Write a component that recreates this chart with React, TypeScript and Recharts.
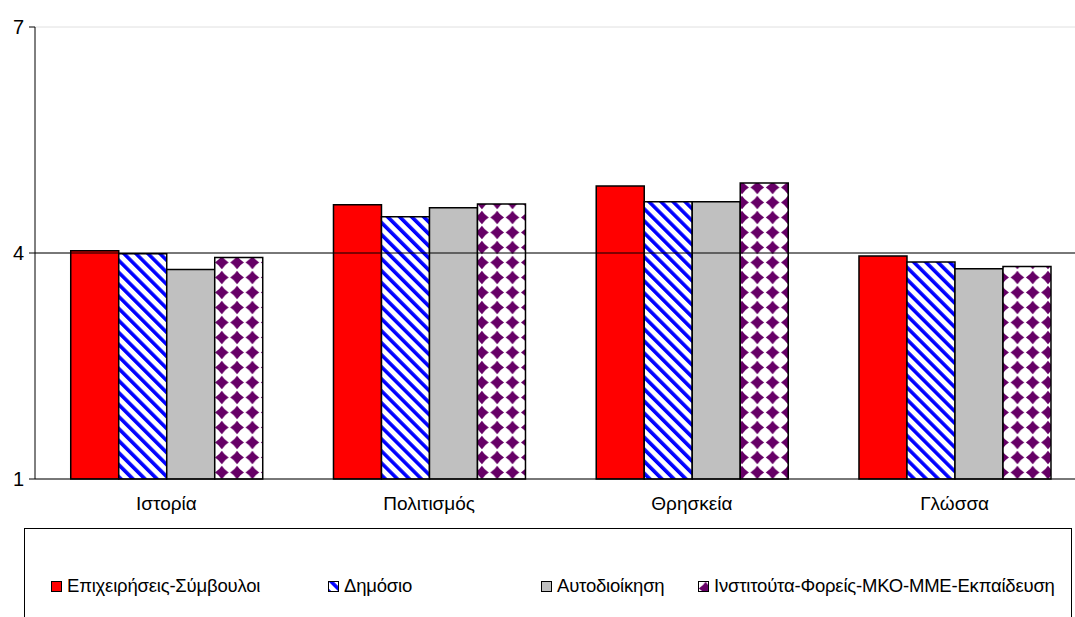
import { BarChart, Bar, XAxis, YAxis, CartesianGrid, ReferenceLine } from "recharts";

const categories = ["Ιστορία", "Πολιτισμός", "Θρησκεία", "Γλώσσα"];
const business = [4.03, 4.64, 4.89, 3.96];
const publicSector = [3.99, 4.48, 4.68, 3.88];
const localGov = [3.78, 4.6, 4.68, 3.79];
const institutes = [3.94, 4.65, 4.93, 3.82];
const yTicks = [1, 4, 7];

const series = [
  { key: "business", name: "Επιχειρήσεις-Σύμβουλοι", fill: "#ff0000", values: business },
  { key: "publicSector", name: "Δημόσιο", fill: "url(#stripesBlue)", values: publicSector },
  { key: "localGov", name: "Αυτοδιοίκηση", fill: "#c0c0c0", values: localGov },
  { key: "institutes", name: "Ινστιτούτα-Φορείς-ΜΚΟ-ΜΜΕ-Εκπαίδευση", fill: "url(#diamondsPurple)", values: institutes },
];

const data = categories.map((c, i) => {
  const row: any = { name: c };
  series.forEach((s) => (row[s.key] = s.values[i]));
  return row;
});

// legend item x offsets inside the legend box
const legendX = [26, 303, 516, 673];

const FONT = "'Liberation Sans', Arial, sans-serif";

function Patterns() {
  return (
    <svg width={0} height={0} style={{ position: "absolute" }}>
      <defs>
        <pattern id="stripesBlue" width={8.5} height={8.5} patternUnits="userSpaceOnUse" patternTransform="rotate(-45)">
          <rect width={8.5} height={8.5} fill="#fff" />
          <rect x={0} y={0} width={3.6} height={8.5} fill="#0000ff" />
        </pattern>
        <pattern id="diamondsPurple" width={15.3} height={15} patternUnits="userSpaceOnUse">
          <rect width={15.3} height={15} fill="#fff" />
          <path d="M7.6 0.8 Q10.2 4.9 14.4 7.5 Q10.2 10.1 7.6 14.2 Q5.0 10.1 0.8 7.5 Q5.0 4.9 7.6 0.8 Z" fill="#660066" />
        </pattern>
      </defs>
    </svg>
  );
}

export default function App() {
  return (
    <div style={{ position: "absolute", left: 0, top: 0, width: 1075, height: 617, overflow: "hidden", background: "#fff", fontFamily: FONT }}>
      <Patterns />
      <BarChart
        width={1090}
        height={617}
        data={data}
        margin={{ top: 27, right: 4, left: 0, bottom: 0 }}
        barCategoryGap="13.6%"
        barGap={0}
      >
        <CartesianGrid vertical={false} stroke="#e0e0e0" />
        <ReferenceLine y={4} stroke="#000" strokeWidth={1} />
        <XAxis
          dataKey="name"
          height={138}
          tickLine={false}
          tickSize={0}
          tickMargin={18}
          axisLine={{ stroke: "#000" }}
          tick={{ fill: "#000", fontSize: 19, fontFamily: FONT }}
        />
        <XAxis
          xAxisId="bounds"
          type="number"
          domain={[0, 4]}
          ticks={[0, 1, 2, 3, 4]}
          allowDataOverflow
          height={0}
          tick={false}
          tickSize={6}
          axisLine={false}
          tickLine={{ stroke: "#000" }}
        />
        <YAxis
          width={35}
          domain={[1, 7]}
          ticks={yTicks}
          interval={0}
          axisLine={{ stroke: "#000" }}
          tickLine={{ stroke: "#000" }}
          tickSize={6}
          tickMargin={5}
          tick={{ fill: "#000", fontSize: 20, fontFamily: FONT }}
        />
        {series.map((s) => (
          <Bar key={s.key} dataKey={s.key} name={s.name} fill={s.fill} stroke="#000" strokeWidth={1.5} isAnimationActive={false} />
        ))}
      </BarChart>
      <div
        style={{
          position: "absolute",
          left: 24,
          top: 528,
          width: 1048,
          height: 120,
          border: "1px solid #000",
          boxSizing: "border-box",
        }}
      >
        {series.map((s, i) => (
          <div key={s.key} style={{ position: "absolute", left: legendX[i], top: 46, display: "flex", alignItems: "center", whiteSpace: "nowrap" }}>
            <svg width={11} height={11} style={{ marginRight: 5 }}>
              <rect x={0.5} y={0.5} width={10} height={10} fill={s.fill} stroke="#000" strokeWidth={1} />
            </svg>
            <span style={{ fontSize: 18.5, color: "#000", letterSpacing: -0.2 }}>{s.name}</span>
          </div>
        ))}
      </div>
    </div>
  );
}
